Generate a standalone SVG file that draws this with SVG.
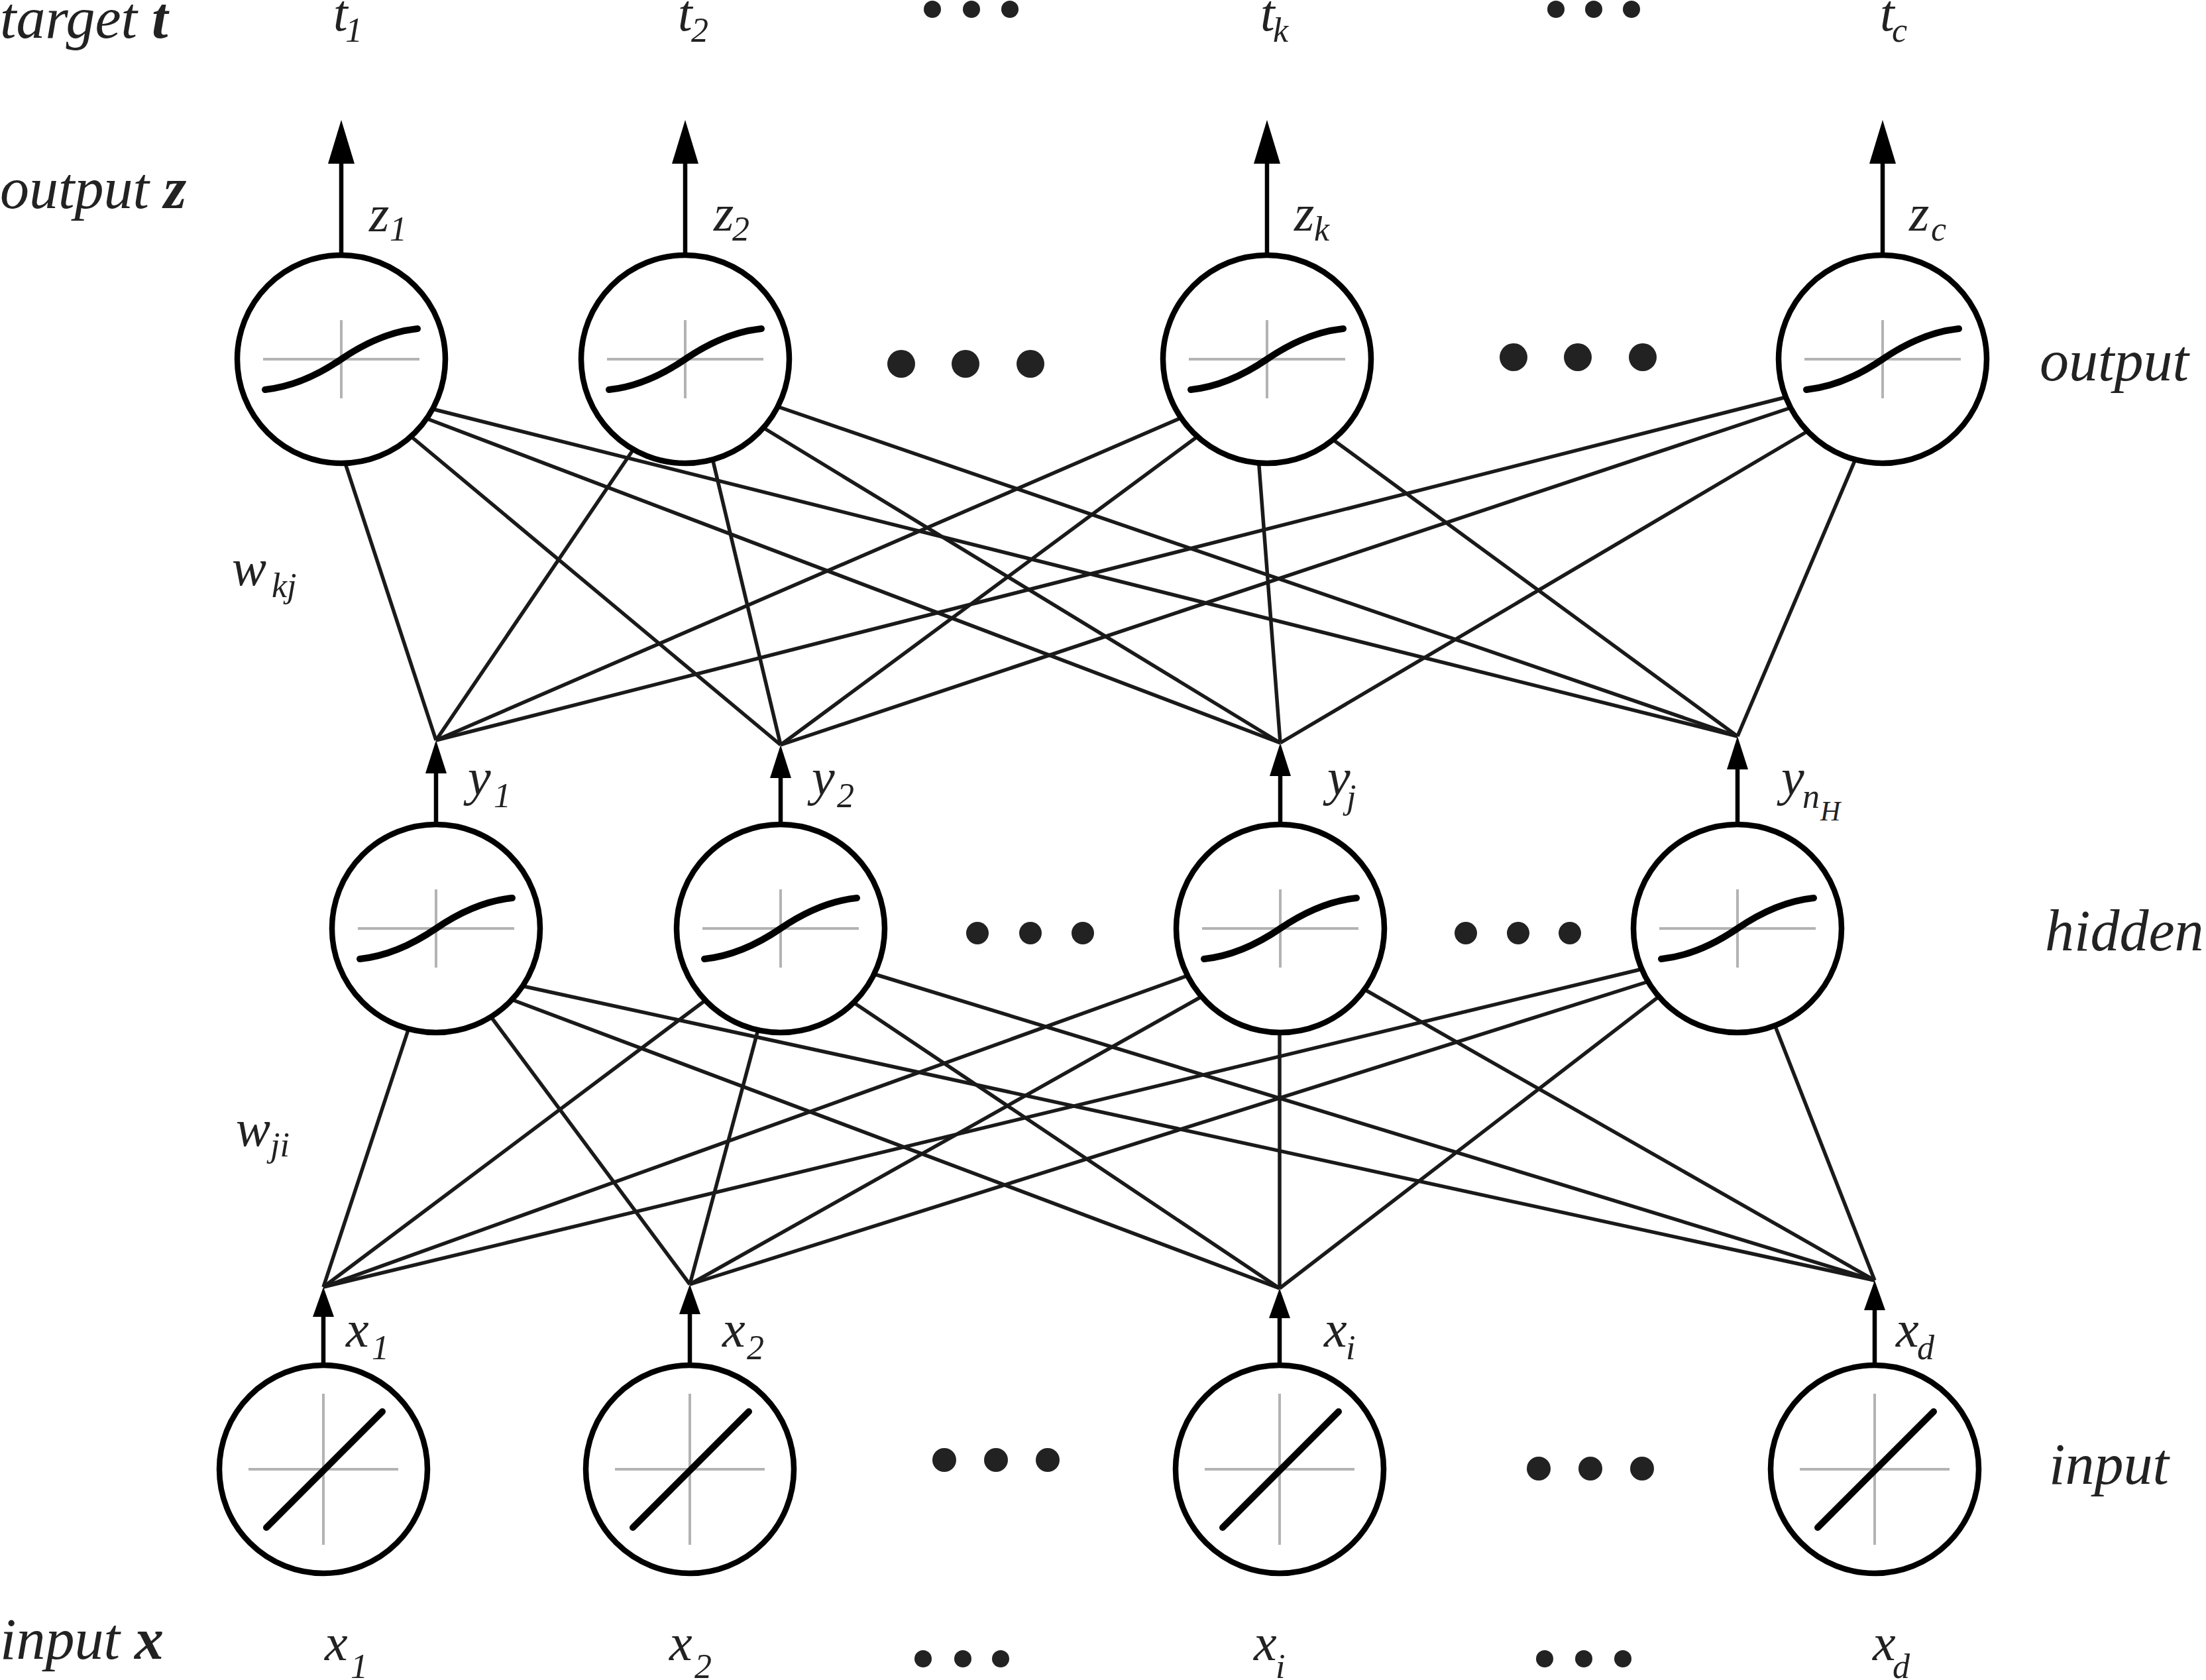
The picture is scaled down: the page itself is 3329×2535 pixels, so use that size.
<svg xmlns="http://www.w3.org/2000/svg" xmlns:xlink="http://www.w3.org/1999/xlink" width="3329" height="2535" viewBox="0 0 3329 2535">
<style>
.bg{fill:#fff}
.node circle{fill:#fff;stroke:#000;stroke-width:8.5}
.cross{stroke:#b3b3b3;stroke-width:4;fill:none}
.fn{fill:none;stroke:#000;stroke-width:10;stroke-linecap:round}
.conn line{stroke:#1a1a1a;stroke-width:5.5}
.shaft{stroke:#000;stroke-width:6.5}
.head{fill:#000}
text{font-family:"Liberation Serif","Times New Roman",serif;font-style:italic;fill:#222}
.big{font-size:88px}
.m{font-size:78px}
.s{font-size:52px}
.ss{font-size:42px}
.b{font-weight:bold}
.dot{fill:#222}
</style>
<defs>
<g id="sigfn">
<line class="cross" x1="-118" y1="0" x2="118" y2="0"/>
<line class="cross" x1="0" y1="-59" x2="0" y2="59"/>
<path class="fn" d="M -115,46 C -77,42 -38,26 0,0 C 38,-26 77,-42 115,-46"/>
</g>
<g id="linfn">
<line class="cross" x1="-113" y1="0" x2="113" y2="0"/>
<line class="cross" x1="0" y1="-114" x2="0" y2="114"/>
<line class="fn" x1="-86" y1="88" x2="89" y2="-87"/>
</g>
</defs>
<rect class="bg" x="0" y="0" width="3329" height="2535"/>

<g id="connectors" class="conn">
<line x1="517" y1="687" x2="658" y2="1117"/>
<line x1="610" y1="650" x2="1178" y2="1124"/>
<line x1="637" y1="629" x2="1932" y2="1121"/>
<line x1="644" y1="615" x2="2622" y2="1111"/>
<line x1="962" y1="669" x2="658" y2="1117"/>
<line x1="1073" y1="683" x2="1178" y2="1124"/>
<line x1="1143" y1="640" x2="1932" y2="1121"/>
<line x1="1169" y1="612" x2="2622" y2="1111"/>
<line x1="1788" y1="628" x2="658" y2="1117"/>
<line x1="1812" y1="655" x2="1178" y2="1124"/>
<line x1="1899" y1="690" x2="1932" y2="1121"/>
<line x1="2000" y1="655" x2="2622" y2="1111"/>
<line x1="2704" y1="597" x2="658" y2="1117"/>
<line x1="2706" y1="614" x2="1178" y2="1124"/>
<line x1="2734" y1="647" x2="1932" y2="1121"/>
<line x1="2800" y1="693" x2="2622" y2="1111"/>
<line x1="619" y1="1545" x2="488" y2="1942"/>
<line x1="737" y1="1529" x2="1041" y2="1938"/>
<line x1="766" y1="1506" x2="1931" y2="1944"/>
<line x1="780" y1="1486" x2="2829" y2="1932"/>
<line x1="1069" y1="1506" x2="488" y2="1942"/>
<line x1="1145" y1="1550" x2="1041" y2="1938"/>
<line x1="1287" y1="1512" x2="1931" y2="1944"/>
<line x1="1310" y1="1467" x2="2829" y2="1932"/>
<line x1="1801" y1="1469" x2="488" y2="1942"/>
<line x1="1820" y1="1500" x2="1041" y2="1938"/>
<line x1="1931" y1="1549" x2="1931" y2="1944"/>
<line x1="2052" y1="1489" x2="2829" y2="1932"/>
<line x1="2483" y1="1461" x2="488" y2="1942"/>
<line x1="2494" y1="1479" x2="1041" y2="1938"/>
<line x1="2503" y1="1504" x2="1931" y2="1944"/>
<line x1="2676" y1="1541" x2="2829" y2="1932"/>
</g>

<!-- output layer -->
<g id="out1" class="node">
<line class="shaft" x1="515" y1="386" x2="515" y2="240"/>
<polygon class="head" points="515,181 535,247 495,247"/>
<circle cx="515" cy="542" r="157"/>
<use xlink:href="#sigfn" transform="translate(515,542)"/>
<text class="m" x="557" y="349">z</text><text class="s" x="588" y="363">1</text>
</g>
<g id="out2" class="node">
<line class="shaft" x1="1034" y1="386" x2="1034" y2="240"/>
<polygon class="head" points="1034,181 1054,247 1014,247"/>
<circle cx="1034" cy="542" r="157"/>
<use xlink:href="#sigfn" transform="translate(1034,542)"/>
<text class="m" x="1077" y="348">z</text><text class="s" x="1105" y="363">2</text>
</g>
<g id="outk" class="node">
<line class="shaft" x1="1912" y1="386" x2="1912" y2="240"/>
<polygon class="head" points="1912,181 1932,247 1892,247"/>
<circle cx="1912" cy="542" r="157"/>
<use xlink:href="#sigfn" transform="translate(1912,542)"/>
<text class="m" x="1953" y="348">z</text><text class="s" x="1983" y="363">k</text>
</g>
<g id="outc" class="node">
<line class="shaft" x1="2841" y1="386" x2="2841" y2="240"/>
<polygon class="head" points="2841,181 2861,247 2821,247"/>
<circle cx="2841" cy="542" r="157"/>
<use xlink:href="#sigfn" transform="translate(2841,542)"/>
<text class="m" x="2881" y="348">z</text><text class="s" x="2914" y="363">c</text>
</g>

<!-- hidden layer -->
<g id="hid1" class="node">
<line class="shaft" x1="658" y1="1245" x2="658" y2="1160"/>
<polygon class="head" points="658,1117 674,1167 642,1167"/>
<circle cx="658" cy="1401" r="157"/>
<use xlink:href="#sigfn" transform="translate(658,1401)"/>
<text class="m" x="706" y="1199">y</text><text class="s" x="745" y="1218">1</text>
</g>
<g id="hid2" class="node">
<line class="shaft" x1="1178" y1="1245" x2="1178" y2="1167"/>
<polygon class="head" points="1178,1124 1194,1174 1162,1174"/>
<circle cx="1178" cy="1401" r="157"/>
<use xlink:href="#sigfn" transform="translate(1178,1401)"/>
<text class="m" x="1225" y="1199">y</text><text class="s" x="1263" y="1218">2</text>
</g>
<g id="hidj" class="node">
<line class="shaft" x1="1932" y1="1245" x2="1932" y2="1164"/>
<polygon class="head" points="1932,1121 1948,1171 1916,1171"/>
<circle cx="1932" cy="1401" r="157"/>
<use xlink:href="#sigfn" transform="translate(1932,1401)"/>
<text class="m" x="2003" y="1199">y</text><text class="s" x="2032" y="1220">j</text>
</g>
<g id="hidnH" class="node">
<line class="shaft" x1="2622" y1="1245" x2="2622" y2="1154"/>
<polygon class="head" points="2622,1111 2638,1161 2606,1161"/>
<circle cx="2622" cy="1401" r="157"/>
<use xlink:href="#sigfn" transform="translate(2622,1401)"/>
<text class="m" x="2688" y="1199">y</text><text class="s" x="2720" y="1219">n</text><text class="ss" x="2747" y="1238">H</text>
</g>

<!-- input layer -->
<g id="in1" class="node">
<line class="shaft" x1="488" y1="2061" x2="488" y2="1980"/>
<polygon class="head" points="488,1942 504,1987 472,1987"/>
<circle cx="488" cy="2217" r="157"/>
<use xlink:href="#linfn" transform="translate(488,2217)"/>
<text class="m" x="522" y="2032">x</text><text class="s" x="561" y="2051">1</text>
</g>
<g id="in2" class="node">
<line class="shaft" x1="1041" y1="2061" x2="1041" y2="1976"/>
<polygon class="head" points="1041,1938 1057,1983 1025,1983"/>
<circle cx="1041" cy="2217" r="157"/>
<use xlink:href="#linfn" transform="translate(1041,2217)"/>
<text class="m" x="1090" y="2032">x</text><text class="s" x="1127" y="2051">2</text>
</g>
<g id="ini" class="node">
<line class="shaft" x1="1931" y1="2061" x2="1931" y2="1982"/>
<polygon class="head" points="1931,1944 1947,1989 1915,1989"/>
<circle cx="1931" cy="2217" r="157"/>
<use xlink:href="#linfn" transform="translate(1931,2217)"/>
<text class="m" x="1998" y="2032">x</text><text class="s" x="2031" y="2051">i</text>
</g>
<g id="ind" class="node">
<line class="shaft" x1="2829" y1="2061" x2="2829" y2="1970"/>
<polygon class="head" points="2829,1932 2845,1977 2813,1977"/>
<circle cx="2829" cy="2217" r="157"/>
<use xlink:href="#linfn" transform="translate(2829,2217)"/>
<text class="m" x="2861" y="2032">x</text><text class="s" x="2893" y="2051">d</text>
</g>

<g id="layer-labels">
<text class="big" x="0" y="57">target <tspan class="b">t</tspan></text>
<text class="big" x="0" y="314">output <tspan class="b">z</tspan></text>
<text class="big" x="0" y="2503">input <tspan class="b">x</tspan></text>
<text class="big" x="3078" y="574">output</text>
<text class="big" x="3086" y="1434">hidden</text>
<text class="big" x="3092" y="2239">input</text>
<text class="m" x="350" y="883">w</text><text class="s" x="410" y="901">kj</text>
<text class="m" x="356" y="1729">w</text><text class="s" x="408" y="1745">ji</text>
</g>

<g id="targets">
<text class="m" x="503" y="46">t</text><text class="s" x="521" y="63">1</text>
<text class="m" x="1023" y="46">t</text><text class="s" x="1043" y="63">2</text>
<text class="m" x="1902" y="46">t</text><text class="s" x="1921" y="63">k</text>
<text class="m" x="2837" y="46">t</text><text class="s" x="2855" y="63">c</text>
</g>

<g id="inputs">
<text class="m" x="490" y="2505">x</text><text class="s" x="529" y="2532">1</text>
<text class="m" x="1010" y="2505">x</text><text class="s" x="1048" y="2532">2</text>
<text class="m" x="1892" y="2505">x</text><text class="s" x="1925" y="2532">i</text>
<text class="m" x="2826" y="2505">x</text><text class="s" x="2856" y="2532">d</text>
</g>

<g id="ellipses">
<circle class="dot" cx="1407" cy="14" r="13"/><circle class="dot" cx="1466" cy="14" r="13"/><circle class="dot" cx="1524" cy="14" r="13"/>
<circle class="dot" cx="2348" cy="14" r="13"/><circle class="dot" cx="2405" cy="14" r="13"/><circle class="dot" cx="2462" cy="14" r="13"/>
<circle class="dot" cx="1360" cy="549" r="21"/><circle class="dot" cx="1457" cy="549" r="21"/><circle class="dot" cx="1555" cy="549" r="21"/>
<circle class="dot" cx="2284" cy="539" r="21"/><circle class="dot" cx="2381" cy="539" r="21"/><circle class="dot" cx="2479" cy="539" r="21"/>
<circle class="dot" cx="1475" cy="1408" r="17"/><circle class="dot" cx="1555" cy="1408" r="17"/><circle class="dot" cx="1634" cy="1408" r="17"/>
<circle class="dot" cx="2212" cy="1408" r="17"/><circle class="dot" cx="2291" cy="1408" r="17"/><circle class="dot" cx="2369" cy="1408" r="17"/>
<circle class="dot" cx="1425" cy="2203" r="18"/><circle class="dot" cx="1503" cy="2203" r="18"/><circle class="dot" cx="1581" cy="2203" r="18"/>
<circle class="dot" cx="2322" cy="2216" r="18"/><circle class="dot" cx="2400" cy="2216" r="18"/><circle class="dot" cx="2478" cy="2216" r="18"/>
<circle class="dot" cx="1393" cy="2503" r="13"/><circle class="dot" cx="1453" cy="2503" r="13"/><circle class="dot" cx="1510" cy="2503" r="13"/>
<circle class="dot" cx="2331" cy="2503" r="13"/><circle class="dot" cx="2390" cy="2503" r="13"/><circle class="dot" cx="2449" cy="2503" r="13"/>
</g>
</svg>
